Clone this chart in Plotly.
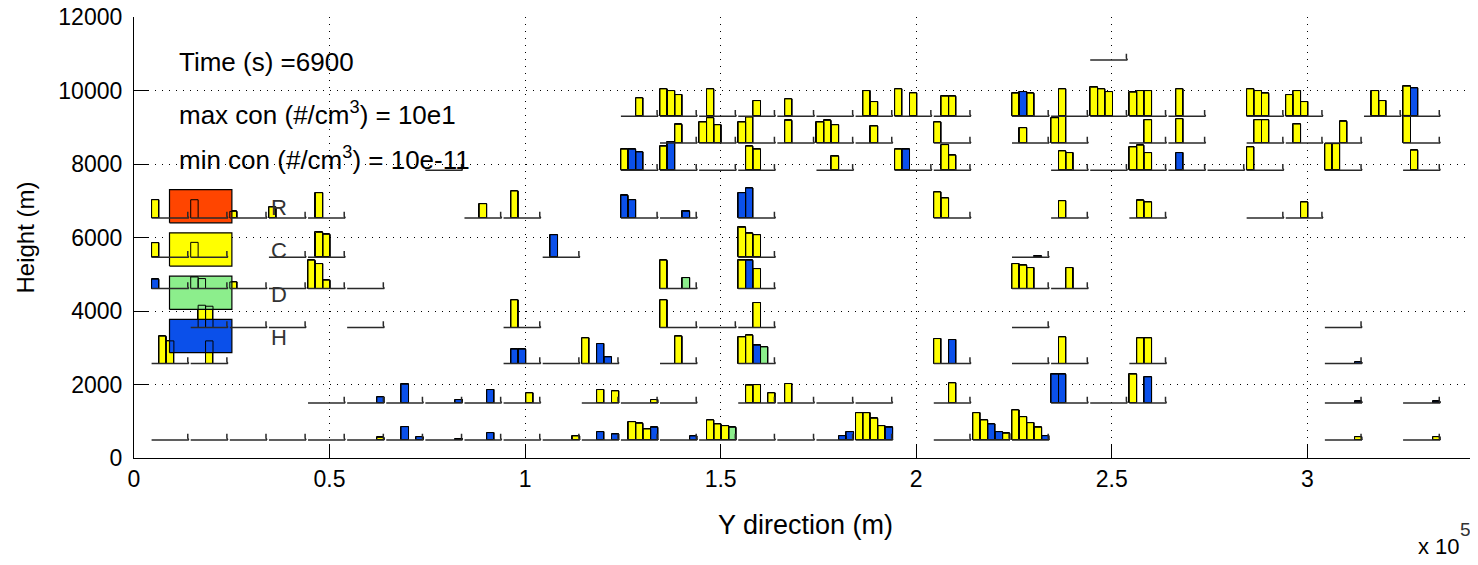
import plotly.graph_objects as go

# ---------------- data ----------------
# baseline height of each row of mini histograms (m)
row_height = [490, 1500, 2570, 3550, 4610, 5460, 6530, 7830, 8570, 9300, 10830]

# cells (10 km columns along Y) that carry a histogram baseline, per row
cells_r1 = [0, 1, 2, 3, 4, 5, 6, 7, 8, 9, 10, 11, 12, 13, 14, 15, 16, 17, 18, 20, 21, 22, 30, 32]
cells_r2 = [4, 5, 6, 7, 8, 9, 11, 12, 13, 15, 16, 17, 18, 20, 23, 24, 25, 30, 32]
cells_r3 = [0, 1, 9, 10, 11, 13, 15, 20, 22, 23, 25, 30]
cells_r4 = [1, 2, 3, 5, 9, 13, 14, 15, 22, 30]
cells_r5 = [0, 1, 2, 3, 4, 5, 13, 15, 22, 23]
cells_r6 = [0, 1, 3, 4, 10, 15, 22]
cells_r7 = [0, 1, 2, 3, 4, 8, 9, 12, 13, 15, 20, 23, 25, 28, 29]
cells_r8 = [7, 12, 13, 14, 15, 17, 19, 20, 23, 24, 25, 26, 27, 28, 30, 32]
cells_r9 = [13, 14, 15, 16, 17, 18, 20, 22, 23, 25, 26, 28, 29, 30, 32]
cells_r10 = [12, 13, 14, 15, 16, 17, 18, 19, 20, 22, 23, 24, 25, 26, 28, 29, 31, 32]
cells_r11 = [24]

# bars per row: (cell, bin, value in m, class)
bars_r1 = [(5, 4, 70, "Y"), (6, 2, 363, "B"), (6, 4, 90, "B"), (7, 4, 30, "B"), (8, 3, 200, "B"),
           (10, 4, 109, "Y"), (11, 2, 227, "B"), (11, 4, 163, "B"), (12, 1, 498, "Y"), (12, 2, 453, "Y"),
           (12, 3, 299, "Y"), (12, 4, 344, "B"), (13, 4, 109, "B"), (14, 1, 544, "Y"), (14, 2, 435, "Y"),
           (14, 3, 390, "Y"), (14, 4, 344, "G"), (17, 3, 118, "B"), (17, 4, 227, "B"), (18, 0, 743, "Y"),
           (18, 1, 743, "Y"), (18, 2, 589, "Y"), (18, 3, 390, "Y"), (18, 4, 344, "B"), (21, 0, 743, "Y"),
           (21, 1, 544, "Y"), (21, 2, 435, "B"), (21, 3, 227, "B"), (21, 4, 181, "Y"), (22, 0, 816, "Y"),
           (22, 1, 634, "Y"), (22, 2, 471, "Y"), (22, 3, 344, "Y"), (22, 4, 118, "B"), (30, 4, 90, "Y"),
           (32, 4, 90, "Y")]
bars_r2 = [(5, 4, 163, "B"), (6, 2, 507, "B"), (7, 4, 90, "B"), (8, 3, 363, "B"), (9, 3, 272, "Y"),
           (11, 2, 363, "Y"), (11, 4, 326, "Y"), (12, 4, 90, "Y"), (15, 1, 480, "Y"), (15, 2, 498, "Y"),
           (15, 4, 272, "Y"), (16, 1, 526, "Y"), (20, 2, 544, "Y"), (23, 0, 780, "B"), (23, 1, 780, "B"),
           (25, 0, 780, "Y"), (25, 2, 707, "B"), (30, 4, 40, "B"), (32, 4, 40, "B")]
bars_r3 = [(0, 1, 744, "Y"), (0, 2, 617, "Y"), (1, 2, 617, "Y"), (9, 1, 390, "B"), (9, 2, 390, "B"),
           (11, 0, 698, "Y"), (11, 2, 544, "B"), (11, 3, 181, "B"), (13, 2, 744, "Y"), (15, 0, 725, "Y"),
           (15, 1, 771, "Y"), (15, 2, 498, "B"), (15, 3, 453, "G"), (20, 0, 680, "Y"), (20, 2, 653, "B"),
           (23, 1, 725, "Y"), (25, 1, 698, "Y"), (25, 2, 698, "Y"), (30, 4, 40, "B")]
bars_r4 = [(1, 1, 607, "Y"), (1, 2, 580, "Y"), (9, 1, 752, "Y"), (13, 0, 752, "Y"), (15, 2, 680, "Y")]
bars_r5 = [(0, 0, 254, "B"), (1, 0, 317, "Y"), (1, 1, 272, "Y"), (2, 0, 181, "Y"), (4, 0, 771, "Y"),
           (4, 1, 680, "Y"), (4, 2, 227, "Y"), (13, 0, 771, "Y"), (13, 3, 299, "G"), (15, 0, 771, "Y"),
           (15, 1, 771, "B"), (15, 2, 544, "Y"), (22, 0, 680, "Y"), (22, 1, 634, "Y"), (22, 2, 571, "Y"),
           (23, 2, 571, "Y")]
bars_r6 = [(0, 0, 399, "Y"), (1, 0, 408, "Y"), (4, 1, 680, "Y"), (4, 2, 625, "Y"), (10, 1, 616, "B"),
           (15, 0, 816, "Y"), (15, 1, 653, "Y"), (15, 2, 616, "Y"), (22, 3, 30, "B")]
bars_r7 = [(0, 0, 498, "Y"), (1, 0, 498, "Y"), (2, 0, 181, "Y"), (3, 0, 299, "Y"), (4, 1, 689, "Y"),
           (8, 2, 390, "Y"), (9, 1, 734, "Y"), (12, 0, 616, "B"), (12, 1, 498, "B"), (13, 3, 181, "B"),
           (15, 0, 689, "B"), (15, 1, 816, "B"), (20, 0, 707, "Y"), (20, 1, 544, "Y"), (23, 1, 471, "Y"),
           (25, 1, 480, "Y"), (25, 2, 435, "Y"), (29, 2, 435, "Y")]
bars_r8 = [(12, 0, 571, "Y"), (12, 1, 571, "B"), (12, 2, 498, "B"), (13, 0, 653, "Y"), (13, 1, 770, "B"),
           (15, 1, 653, "Y"), (15, 2, 571, "Y"), (17, 2, 381, "Y"), (19, 0, 571, "Y"), (19, 1, 571, "B"),
           (20, 1, 698, "Y"), (20, 2, 408, "Y"), (23, 1, 526, "Y"), (23, 2, 480, "Y"), (25, 0, 634, "Y"),
           (25, 1, 680, "Y"), (25, 2, 480, "Y"), (26, 1, 480, "B"), (28, 0, 634, "Y"), (30, 0, 725, "Y"),
           (30, 1, 725, "Y"), (32, 1, 544, "Y")]
bars_r9 = [(13, 2, 507, "Y"), (14, 0, 571, "Y"), (14, 1, 689, "Y"), (14, 2, 498, "Y"), (15, 0, 571, "Y"),
           (15, 1, 707, "Y"), (16, 1, 616, "Y"), (17, 0, 571, "Y"), (17, 1, 616, "Y"), (17, 2, 498, "Y"),
           (18, 2, 462, "Y"), (20, 0, 571, "Y"), (22, 1, 417, "Y"), (23, 0, 689, "Y"), (23, 1, 734, "Y"),
           (25, 2, 634, "Y"), (26, 1, 662, "Y"), (28, 1, 634, "Y"), (28, 2, 634, "Y"), (29, 1, 516, "Y"),
           (30, 2, 589, "Y"), (32, 0, 752, "Y")]
bars_r10 = [(12, 2, 498, "Y"), (13, 0, 744, "Y"), (13, 1, 698, "Y"), (13, 2, 589, "Y"), (14, 1, 744, "Y"),
            (15, 2, 426, "Y"), (16, 1, 471, "Y"), (18, 1, 698, "Y"), (18, 2, 399, "Y"), (19, 0, 744, "Y"),
            (19, 2, 634, "Y"), (20, 1, 544, "Y"), (20, 2, 544, "Y"), (22, 0, 626, "Y"), (22, 1, 671, "B"),
            (22, 2, 626, "Y"), (23, 1, 744, "Y"), (24, 0, 789, "Y"), (24, 1, 744, "Y"), (24, 2, 671, "Y"),
            (25, 0, 653, "Y"), (25, 1, 698, "Y"), (25, 2, 698, "Y"), (26, 1, 744, "Y"), (28, 0, 744, "Y"),
            (28, 1, 698, "Y"), (28, 2, 626, "Y"), (29, 0, 589, "Y"), (29, 1, 698, "Y"), (29, 2, 399, "Y"),
            (31, 1, 698, "Y"), (31, 2, 426, "Y"), (32, 0, 816, "Y"), (32, 1, 771, "B")]
bars_r11 = []

legend_labels = ["R", "C", "D", "H"]
time_s = 6900
max_con = "10e1"
min_con = "10e-11"

x_tick_vals = [0, 50000, 100000, 150000, 200000, 250000, 300000]
x_tick_text = ["0", "0.5", "1", "1.5", "2", "2.5", "3"]
y_tick_vals = [0, 2000, 4000, 6000, 8000, 10000, 12000]
y_tick_text = ["0", "2000", "4000", "6000", "8000", "10000", "12000"]

# ---------------- styling / layout ----------------
YEL, BLU, GRN, RED = "#FFFF00", "#0B50EA", "#8CEE8C", "#FF4500"
class_colors = {"Y": YEL, "B": BLU, "G": GRN}
legend_colors = [RED, YEL, GRN, BLU]
FONT = "Liberation Sans, Arial, Helvetica, sans-serif"

CELL0, PITCH, BIN = 4500, 10000, 1900
SEG_LEN, HOOK_X, HOOK_H = 9500, 9250, 170

row_cells = [cells_r1, cells_r2, cells_r3, cells_r4, cells_r5, cells_r6,
             cells_r7, cells_r8, cells_r9, cells_r10, cells_r11]
row_bars = [bars_r1, bars_r2, bars_r3, bars_r4, bars_r5, bars_r6,
            bars_r7, bars_r8, bars_r9, bars_r10, bars_r11]

fig = go.Figure()

# filled bars, one trace per class
for cls, col in class_colors.items():
    xs, ys, bs = [], [], []
    for r, bars in enumerate(row_bars):
        for (k, s, v, c) in bars:
            if c == cls:
                xs.append(CELL0 + k * PITCH + BIN * (s + 0.5))
                ys.append(v)
                bs.append(row_height[r])
    fig.add_trace(go.Bar(x=xs, y=ys, base=bs, width=BIN, marker=dict(color=col, line=dict(color="black", width=1)),
                         hoverinfo="skip", showlegend=False))

# legend boxes (drawn above bar fills)
box_x0, box_x1 = 9080, 25030
box_top, box_step, box_h = 7305, 1178, 905
for i, col in enumerate(legend_colors):
    t = box_top - i * box_step
    b = t - box_h
    fig.add_trace(go.Scatter(x=[box_x0, box_x1, box_x1, box_x0, box_x0], y=[b, b, t, t, b], mode="lines",
                             fill="toself", fillcolor=col, line=dict(color="black", width=1.2),
                             hoverinfo="skip", showlegend=False))

# bar outlines on top (visible through legend boxes)
ox, oy = [], []
for r, bars in enumerate(row_bars):
    for (k, s, v, c) in bars:
        xl = CELL0 + k * PITCH + BIN * s
        xr = xl + BIN
        b0 = row_height[r]
        ox += [xl, xl, xr, xr, None]
        oy += [b0, b0 + v, b0 + v, b0, None]
fig.add_trace(go.Scatter(x=ox, y=oy, mode="lines", line=dict(color="black", width=1),
                         hoverinfo="skip", showlegend=False))

# baselines with end hooks
lx, ly = [], []
for r, cells in enumerate(row_cells):
    b0 = row_height[r]
    for k in cells:
        x0 = CELL0 + k * PITCH
        lx += [x0, x0 + SEG_LEN, None, x0 + HOOK_X, x0 + HOOK_X, x0 + HOOK_X + 250, None]
        ly += [b0, b0, None, b0 + HOOK_H, b0 + 50, b0, None]
fig.add_trace(go.Scatter(x=lx, y=ly, mode="lines", line=dict(color="#2a2a2a", width=1.5),
                         hoverinfo="skip", showlegend=False))

annotations = []
for i, lab in enumerate(legend_labels):
    cy = box_top - i * box_step - box_h / 2 - 40
    annotations.append(dict(x=37200, y=cy, text=lab, showarrow=False, xanchor="center", yanchor="middle",
                            font=dict(size=22, color="#333333", family=FONT)))

info_lines = ["Time (s) =" + str(time_s),
              "max con (#/cm<sup>3</sup>) = " + max_con,
              "min con (#/cm<sup>3</sup>) = " + min_con]
info_y = [10770, 9385, 8140]
for txt, yy in zip(info_lines, info_y):
    annotations.append(dict(x=11090, y=yy, text=txt, showarrow=False, xanchor="left", yanchor="middle",
                            font=dict(size=26, color="black", family=FONT)))

annotations.append(dict(xref="paper", yref="paper", x=0.9888, y=-0.20, text="x 10", showarrow=False,
                        xanchor="right", yanchor="middle", font=dict(size=22, color="black", family=FONT)))
annotations.append(dict(xref="paper", yref="paper", x=0.9972, y=-0.163, text="5", showarrow=False,
                        xanchor="right", yanchor="middle", font=dict(size=19, color="#333333", family=FONT)))

axis_common = dict(showline=True, linecolor="black", linewidth=1.2, mirror=False,
                   ticks="inside", ticklen=14, tickwidth=1, tickcolor="black",
                   showgrid=True, gridcolor="black", gridwidth=1, griddash="1px,6px",
                   zeroline=False, automargin=False, ticklabeloverflow="allow",
                   tickfont=dict(size=23, color="black", family=FONT))

# the page body adds an 8 px margin, so the figure is 8 px smaller and its margins 8 px less
fig.update_layout(
    width=1470, height=557,
    margin=dict(l=126, r=1, t=9, b=107),
    paper_bgcolor="white", plot_bgcolor="white",
    barmode="overlay", bargap=0,
    font=dict(family=FONT, color="black"),
    xaxis=dict(range=[0, 343400], tickvals=x_tick_vals, ticktext=x_tick_text,
               title=dict(text="Y direction (m)", font=dict(size=27, family=FONT), standoff=24),
               **axis_common),
    yaxis=dict(range=[0, 12000.5], tickvals=y_tick_vals, ticktext=y_tick_text, ticklabelstandoff=6,
               title=dict(text="Height (m)", font=dict(size=24, family=FONT), standoff=16),
               **axis_common),
    annotations=annotations,
    showlegend=False,
)

fig.write_html("out.html", config={"displayModeBar": False})
